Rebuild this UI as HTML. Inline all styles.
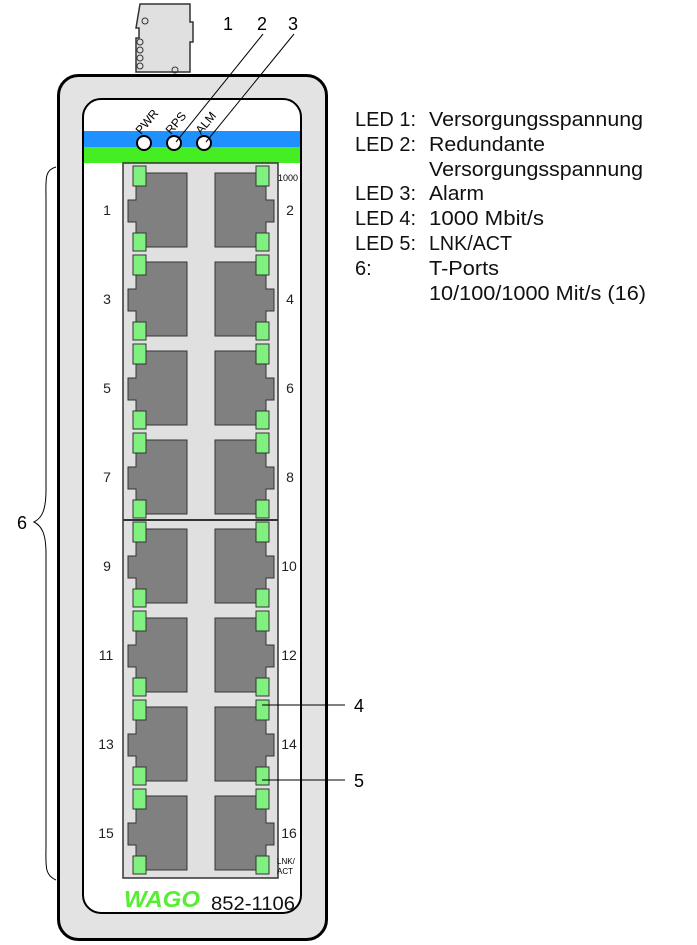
<!DOCTYPE html>
<html><head><meta charset="utf-8"><style>
html,body{margin:0;padding:0;background:#fff;}
svg{display:block;font-family:"Liberation Sans",sans-serif;}
</style></head><body>
<svg width="697" height="945" viewBox="0 0 697 945" xmlns="http://www.w3.org/2000/svg">
<defs>
<g id="pl">
<path d="M136 7 H187 V81 H136 V56 H128 V34 H136 Z" fill="#808080" stroke="#333" stroke-width="1"/>
<rect x="133" y="0" width="13" height="20" fill="#80f080" stroke="#333" stroke-width="1"/>
<rect x="133" y="67" width="13" height="18" fill="#80f080" stroke="#333" stroke-width="1"/>
</g>
<g id="pr">
<path d="M266 7 H215 V81 H266 V56 H274 V34 H266 Z" fill="#808080" stroke="#333" stroke-width="1"/>
<rect x="256" y="0" width="13" height="20" fill="#80f080" stroke="#333" stroke-width="1"/>
<rect x="256" y="67" width="13" height="18" fill="#80f080" stroke="#333" stroke-width="1"/>
</g>
</defs>
<path d="M140 4 H190 V22 H193 V42 H190 V72 H136 V38 H139 V28 H136 Z" fill="#e0e0e0" stroke="#333" stroke-width="1.5"/>
<circle cx="145" cy="21" r="3" fill="none" stroke="#333"/>
<circle cx="140" cy="42" r="3" fill="none" stroke="#333"/>
<circle cx="140" cy="50" r="3" fill="none" stroke="#333"/>
<circle cx="140" cy="58" r="3" fill="none" stroke="#333"/>
<circle cx="140" cy="66" r="3" fill="none" stroke="#333"/>
<circle cx="175" cy="70" r="3" fill="none" stroke="#333"/>
<rect x="58.5" y="75.5" width="268" height="864" rx="20" fill="#e3e3e3" stroke="#000" stroke-width="3"/>
<rect x="83" y="99" width="218" height="814" rx="18" fill="#fff" stroke="#000" stroke-width="2"/>
<rect x="84" y="131" width="216" height="16" fill="#1e90ff"/>
<rect x="84" y="147" width="216" height="16" fill="#44ee22"/>
<circle cx="144" cy="143" r="7" fill="#fff" stroke="#000" stroke-width="2"/>
<circle cx="174" cy="143" r="7" fill="#fff" stroke="#000" stroke-width="2"/>
<circle cx="204" cy="143" r="7" fill="#fff" stroke="#000" stroke-width="2"/>
<text font-size="12" transform="translate(141,135) rotate(-50)">PWR</text>
<text font-size="12" transform="translate(171,135) rotate(-50)">RPS</text>
<text font-size="12" transform="translate(201,135) rotate(-50)">ALM</text>
<rect x="123" y="163" width="155" height="715" fill="#e0e0e0" stroke="#333" stroke-width="1.5"/>
<line x1="123" y1="520" x2="278" y2="520" stroke="#333" stroke-width="2"/>
<use href="#pl" y="166"/><use href="#pr" y="166"/>
<use href="#pl" y="255"/><use href="#pr" y="255"/>
<use href="#pl" y="344"/><use href="#pr" y="344"/>
<use href="#pl" y="433"/><use href="#pr" y="433"/>
<use href="#pl" y="522"/><use href="#pr" y="522"/>
<use href="#pl" y="611"/><use href="#pr" y="611"/>
<use href="#pl" y="700"/><use href="#pr" y="700"/>
<use href="#pl" y="789"/><use href="#pr" y="789"/>
<g font-size="14" fill="#222">
<text x="107" y="215" text-anchor="middle">1</text><text x="290" y="215" text-anchor="middle">2</text>
<text x="107" y="304" text-anchor="middle">3</text><text x="290" y="304" text-anchor="middle">4</text>
<text x="107" y="393" text-anchor="middle">5</text><text x="290" y="393" text-anchor="middle">6</text>
<text x="107" y="482" text-anchor="middle">7</text><text x="290" y="482" text-anchor="middle">8</text>
<text x="107" y="571" text-anchor="middle">9</text><text x="289" y="571" text-anchor="middle">10</text>
<text x="106" y="660" text-anchor="middle">11</text><text x="289" y="660" text-anchor="middle">12</text>
<text x="106" y="749" text-anchor="middle">13</text><text x="289" y="749" text-anchor="middle">14</text>
<text x="106" y="838" text-anchor="middle">15</text><text x="289" y="838" text-anchor="middle">16</text>
</g>
<text x="278" y="181" font-size="9">1000</text>
<text x="277" y="864" font-size="8">LNK/</text>
<text x="277" y="874" font-size="8">ACT</text>
<text x="124" y="907" font-size="23" font-weight="bold" fill="#55ee33" font-style="italic" textLength="76" lengthAdjust="spacingAndGlyphs">WAGO</text>
<text x="211" y="910" font-size="19" fill="#111" textLength="84" lengthAdjust="spacingAndGlyphs">852-1106</text>
<text x="223" y="30" font-size="18">1</text>
<text x="257" y="30" font-size="18">2</text>
<text x="288" y="30" font-size="18">3</text>
<line x1="263" y1="34" x2="176" y2="142" stroke="#000" stroke-width="1"/>
<line x1="294" y1="34" x2="206" y2="142" stroke="#000" stroke-width="1"/>
<line x1="262" y1="705" x2="345" y2="705" stroke="#000" stroke-width="1"/>
<text x="354" y="712" font-size="18">4</text>
<line x1="262" y1="780" x2="345" y2="780" stroke="#000" stroke-width="1"/>
<text x="354" y="787" font-size="18">5</text>
<path d="M56 167 C44 170 46 180 46 200 V490 C46 510 42 518 34 522 C42 526 46 534 46 554 V845 C46 865 44 875 56 880" fill="none" stroke="#000" stroke-width="1"/>
<text x="17" y="529" font-size="18">6</text>
<g font-size="20" fill="#111" lengthAdjust="spacingAndGlyphs">
<text x="355" y="126" textLength="61" lengthAdjust="spacingAndGlyphs">LED 1:</text><text x="429" y="126" textLength="214" lengthAdjust="spacingAndGlyphs">Versorgungsspannung</text>
<text x="355" y="151" textLength="61" lengthAdjust="spacingAndGlyphs">LED 2:</text><text x="429" y="151" textLength="116" lengthAdjust="spacingAndGlyphs">Redundante</text>
<text x="429" y="176" textLength="214" lengthAdjust="spacingAndGlyphs">Versorgungsspannung</text>
<text x="355" y="200" textLength="61" lengthAdjust="spacingAndGlyphs">LED 3:</text><text x="429" y="200" textLength="55" lengthAdjust="spacingAndGlyphs">Alarm</text>
<text x="355" y="225" textLength="61" lengthAdjust="spacingAndGlyphs">LED 4:</text><text x="429" y="225" textLength="115" lengthAdjust="spacingAndGlyphs">1000 Mbit/s</text>
<text x="355" y="250" textLength="61" lengthAdjust="spacingAndGlyphs">LED 5:</text><text x="429" y="250" textLength="83" lengthAdjust="spacingAndGlyphs">LNK/ACT</text>
<text x="355" y="275">6:</text><text x="429" y="275" textLength="70" lengthAdjust="spacingAndGlyphs">T-Ports</text>
<text x="429" y="300" textLength="217" lengthAdjust="spacingAndGlyphs">10/100/1000 Mit/s (16)</text>
</g>
</svg>
</body></html>
